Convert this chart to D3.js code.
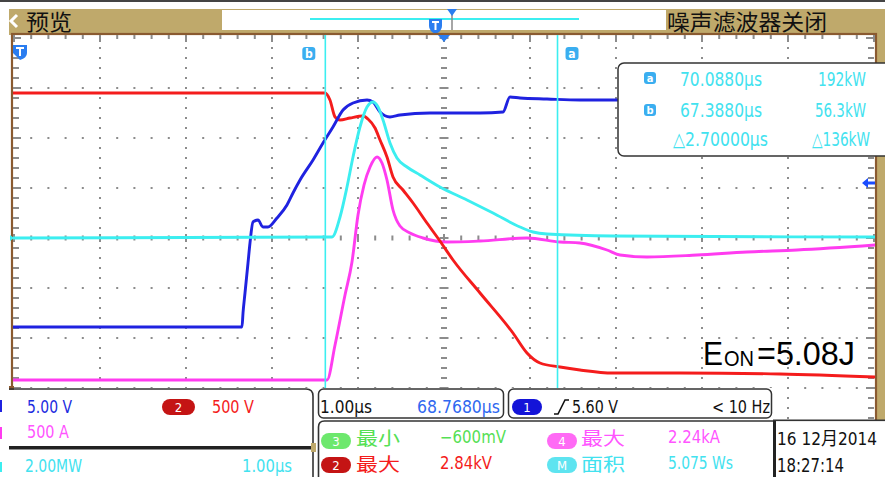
<!DOCTYPE html>
<html><head><meta charset="utf-8">
<script src="https://cdn.jsdelivr.net/npm/d3@7"></script>
<style>html,body{margin:0;padding:0;background:#fff;overflow:hidden}svg{display:block}</style>
</head><body>
<svg id="c" width="885" height="477"></svg>
<script>
const screenStartUs = 63.768;          // left edge of the record window (µs)
const usPerDiv = 1.0;
const cursorTimes = [70.088, 67.388];   // cursor a, cursor b (µs)
const cursorLabels = ["a", "b"];

// CH1 gate voltage (V), 5.00 V/div
const blueTime  = [63.745,66.419,66.431,66.454,66.489,66.512,66.547,66.605,66.663,66.721,66.826,66.942,67.012,67.094,67.245,67.361,67.477,67.594,67.710,67.873,67.942,68.024,68.140,68.256,68.605,69.187,69.454,69.535,69.652,69.966,70.349,73.791];
const blueVolts = [-8.9,-8.9,-7.5,-5.5,-2.5,-0.5,1.6,1.8,1.1,1.1,2.0,3.3,4.5,5.8,7.8,9.5,11.1,12.8,13.5,13.8,13.6,12.6,12.1,12.3,12.5,12.5,12.6,14.1,14.0,13.9,13.8,13.8];

// CH2 collector voltage (V), 500 V/div
const redTime  = [63.745,67.384,67.442,67.501,67.559,67.675,67.826,67.884,67.966,68.024,68.105,68.175,68.291,68.408,68.570,68.721,68.873,69.187,69.570,69.733,69.884,70.117,70.349,70.733,71.512,72.675,73.791];
const redVolts = [2840,2840,2770,2600,2570,2590,2610,2580,2490,2370,2200,2000,1870,1740,1540,1360,1170,840,440,240,140,100,70,40,40,30,0];

// CH4 collector current (A), 500 A/div
const magentaTime = [63.745,67.408,67.501,67.617,67.698,67.768,67.838,67.908,67.989,68.047,68.105,68.175,68.256,68.373,68.524,68.803,69.187,69.733,70.117,70.349,70.663,70.815,71.128,71.710,72.291,72.873,73.791];
const magentaAmps = [10,10,360,860,1190,1660,1960,2140,2240,2180,2010,1710,1550,1480,1430,1390,1400,1430,1390,1380,1310,1260,1240,1260,1290,1310,1360];

// Math power (MW), 2.00 MW/div
const cyanTime = [63.745,67.466,67.559,67.640,67.710,67.791,67.873,67.942,68.001,68.059,68.140,68.221,68.338,68.489,68.721,69.035,69.338,69.652,69.803,69.966,70.733,73.791];
const cyanMW   = [0,0.04,0.84,2.04,3.24,4.44,5.24,5.44,5.24,4.72,3.80,3.20,2.84,2.52,2.04,1.52,1.00,0.44,0.24,0.16,0.08,0.04];

// readouts
const cursorReadTime  = ["70.0880µs", "67.3880µs", "△2.70000µs"];
const cursorReadPower = ["192kW", "56.3kW", "△136kW"];

// ---------------- drawing ----------------
const svg = d3.select("#c");
const SF = '"DejaVu Sans Condensed","DejaVu Sans",sans-serif';
const CJK = '"Noto Sans CJK SC",sans-serif';
const BEIGE = "#bfa96b", BROWN = "#8a5a30", GRIDC = "#8c8c8c";
const C = {blue:"#1f22e0", red:"#f41c1c", mag:"#ff3cf0", cyan:"#3ceef0"};

const x = d3.scaleLinear().domain([screenStartUs, screenStartUs + 10*usPerDiv]).range([14, 874]);
const yDiv = d3.scaleLinear().domain([-4, 4]).range([438, 38]);

function txt(g, xx, yy, s, color, size, len, opts) {
  opts = opts || {};
  const t = g.append("text").attr("x", xx).attr("y", yy).text(s)
    .attr("fill", color).attr("font-size", size)
    .attr("font-family", opts.font || SF)
    .attr("text-anchor", opts.anchor || "start");
  if (len) t.attr("textLength", len).attr("lengthAdjust", "spacingAndGlyphs");
  if (opts.weight) t.attr("font-weight", opts.weight);
  return t;
}

svg.append("rect").attr("width", 885).attr("height", 477).attr("fill", "#fff");
svg.append("rect").attr("x", 0).attr("y", 0).attr("width", 885).attr("height", 2).attr("fill", "#444");

// title bar
svg.append("rect").attr("x", 9).attr("y", 9).attr("width", 876).attr("height", 26).attr("fill", BEIGE);
svg.append("rect").attr("x", 222).attr("y", 10).attr("width", 444).attr("height", 20).attr("fill", "#fff");
svg.append("path").attr("d", "M17,15 L11,21 L17,27").attr("fill", "none").attr("stroke", "#fff").attr("stroke-width", 3);
txt(svg, 26, 30, "预览", "#111", 22, 46, {font: CJK});
txt(svg, 667, 30, "噪声滤波器关闭", "#111", 22, 160, {font: CJK});
svg.append("rect").attr("x", 310).attr("y", 18).attr("width", 269).attr("height", 2).attr("fill", C.cyan);
svg.append("path").attr("d", "M429,19 h13 v7 q0,5 -6.5,8 q-6.5,-3 -6.5,-8 z").attr("fill", "#2a7df0");
svg.append("path").attr("d", "M432,22 h7 M435.5,22 v8").attr("stroke", "#fff").attr("stroke-width", 2);
svg.append("line").attr("x1", 452).attr("x2", 452).attr("y1", 10).attr("y2", 30).attr("stroke", "#888").attr("stroke-width", 1.5);
svg.append("path").attr("d", "M447,9 h10 l-5,7 z").attr("fill", "#2a7df0");

// right beige strip
svg.append("rect").attr("x", 876).attr("y", 9).attr("width", 9).attr("height", 412).attr("fill", BEIGE);

// plot frame
const plot = svg.append("g");
plot.append("rect").attr("x", 12).attr("y", 34).attr("width", 864).attr("height", 410)
  .attr("fill", "none").attr("stroke", BROWN).attr("stroke-width", 2.2);

// grid
const grid = plot.append("g");
const majorX = d3.range(11).map(i => x(screenStartUs + i*usPerDiv));
const minorX = d3.range(51).map(k => x(screenStartUs + k*usPerDiv/5));
const minorY = d3.range(41).map(m => yDiv(-4 + m*0.2));
function dot(px, py) {
  grid.append("rect").attr("x", px-1).attr("y", py-1).attr("width", 2).attr("height", 2).attr("fill", GRIDC);
}
d3.range(-3, 4).filter(j => j !== 0).forEach(j => minorX.forEach(px => dot(px, yDiv(j))));
d3.range(1, 10).filter(i => i !== 5).forEach(i => minorY.forEach(py => dot(majorX[i], py)));
minorY.forEach((py, m) => {
  const w = m % 5 === 0 ? 9 : 6;
  grid.append("rect").attr("x", majorX[5]-w/2).attr("y", py-1).attr("width", w).attr("height", 2).attr("fill", GRIDC);
  grid.append("rect").attr("x", 13).attr("y", py-1).attr("width", m % 5 === 0 ? 8 : 6).attr("height", 2).attr("fill", GRIDC);
  grid.append("rect").attr("x", 874-(m % 5 === 0 ? 8 : 6)).attr("y", py-1).attr("width", m % 5 === 0 ? 8 : 6).attr("height", 2).attr("fill", GRIDC);
});
minorX.forEach((px, k) => {
  const h = k % 5 === 0 ? 8 : 5;
  grid.append("rect").attr("x", px-1).attr("y", yDiv(0)-h/2).attr("width", 2).attr("height", h).attr("fill", GRIDC);
  grid.append("rect").attr("x", px-1).attr("y", 35).attr("width", 2).attr("height", k % 5 === 0 ? 7 : 4).attr("fill", GRIDC);
});

// traces
svg.append("clipPath").attr("id", "pc").append("rect").attr("x", 13).attr("y", 35).attr("width", 862).attr("height", 408);
const tr = plot.append("g").attr("clip-path", "url(#pc)");
const chans = [
  {t: cyanTime, v: cyanMW, perDiv: 2.0, pos: 0, color: C.cyan},
  {t: magentaTime, v: magentaAmps, perDiv: 500, pos: -2.86, color: C.mag},
  {t: redTime, v: redVolts, perDiv: 500, pos: -2.78, color: C.red},
  {t: blueTime, v: blueVolts, perDiv: 5.0, pos: 0, color: C.blue}
];
[1, 2, 3, 0].forEach(i => {
  const ch = chans[i];
  const pts = ch.t.map((t, k) => [x(t), yDiv(ch.v[k]/ch.perDiv + ch.pos)]);
  tr.append("path").attr("d", d3.line().curve(d3.curveMonotoneX)(pts))
    .attr("fill", "none").attr("stroke", ch.color).attr("stroke-width", 2.9)
    .attr("stroke-linejoin", "round");
});

// cursors
cursorTimes.forEach((t, i) => {
  const cx = x(t);
  tr.append("line").attr("x1", cx).attr("x2", cx).attr("y1", 35).attr("y2", 390)
    .attr("stroke", C.cyan).attr("stroke-width", 1.6);
  const ix = i === 0 ? cx + 8 : cx - 23;
  plot.append("rect").attr("x", ix).attr("y", 47).attr("width", 13).attr("height", 13).attr("rx", 3).attr("fill", "#3aaef0");
  txt(plot, ix + 6.5, 58, cursorLabels[i], "#fff", 12, null, {anchor: "middle", weight: "bold"});
});

// markers
plot.append("path").attr("d", `M${x(screenStartUs+5*usPerDiv)-6},35 h12 l-6,7 z`).attr("fill", "#2a7df0");
plot.append("path").attr("d", "M13,45 h14 v8 q0,5 -7,7 l-7,-7 z").attr("fill", "#2a7df0");
plot.append("path").attr("d", "M16,48 h8 M20,48 v8").attr("stroke", "#fff").attr("stroke-width", 2);
plot.append("path").attr("d", "M862,183 l6,-5 v3.5 h7 v3 h-7 v3.5 z").attr("fill", "#1a4cff");
plot.append("path").attr("d", "M10,235 l4,3 l-4,3 z").attr("fill", C.cyan);

// E_ON annotation
const LS = '"Liberation Sans",Arial,sans-serif';
txt(svg, 703, 365, "E", "#000", 34, 20, {font: LS});
txt(svg, 724, 366, "ON", "#000", 22, 30, {font: LS});
txt(svg, 757, 365, "=5.08J", "#000", 34, 98, {font: LS});

// cursor readout box
const rb = svg.append("g");
rb.append("rect").attr("x", 618).attr("y", 63).attr("width", 280).attr("height", 93).attr("rx", 6)
  .attr("fill", "#fff").attr("stroke", "#333").attr("stroke-width", 1.5);
[78, 110].forEach((cy, i) => {
  rb.append("rect").attr("x", 644).attr("y", cy-6).attr("width", 12).attr("height", 12).attr("rx", 3).attr("fill", "#3aaef0");
  txt(rb, 650, cy+4, cursorLabels[i], "#fff", 11, null, {anchor: "middle", weight: "bold"});
});
const RC = "#42e2ef";
txt(rb, 680, 86, cursorReadTime[0], RC, 20, 82);
txt(rb, 680, 117, cursorReadTime[1], RC, 20, 82);
txt(rb, 673, 146, cursorReadTime[2], RC, 19, 95);
txt(rb, 866, 86, cursorReadPower[0], RC, 20, 48, {anchor: "end"});
txt(rb, 866, 117, cursorReadPower[1], RC, 20, 51, {anchor: "end"});
txt(rb, 870, 146, cursorReadPower[2], RC, 19, 58, {anchor: "end"});

// bottom panels
const bp = svg.append("g");
bp.append("rect").attr("x", 0).attr("y", 388).attr("width", 775).attr("height", 89).attr("fill", "#fff");
bp.append("rect").attr("x", 775).attr("y", 420).attr("width", 110).attr("height", 57).attr("fill", "#fff");
bp.append("rect").attr("x", 9).attr("y", 386).attr("width", 5).attr("height", 4).attr("fill", BROWN);
bp.append("path").attr("d", "M9,389 H306 Q313,389 313,396 V477").attr("fill", "none").attr("stroke", "#333").attr("stroke-width", 1.6);
bp.append("rect").attr("x", 9).attr("y", 446).attr("width", 305).attr("height", 3.5).attr("fill", "#222");
bp.append("rect").attr("x", 311).attr("y", 443).attr("width", 5).attr("height", 9).attr("fill", BEIGE);
bp.append("rect").attr("x", 318.5).attr("y", 389).attr("width", 185).attr("height", 29).attr("rx", 5)
  .attr("fill", "none").attr("stroke", "#333").attr("stroke-width", 1.5);
bp.append("rect").attr("x", 508.5).attr("y", 389).attr("width", 263).attr("height", 29).attr("rx", 5)
  .attr("fill", "none").attr("stroke", "#333").attr("stroke-width", 1.5);
bp.append("path").attr("d", "M318.5,477 V427 Q318.5,421 324.5,421 H775").attr("fill", "none").attr("stroke", "#333").attr("stroke-width", 1.6);
bp.append("rect").attr("x", 773).attr("y", 420).attr("width", 3).attr("height", 57).attr("fill", "#222");
bp.append("rect").attr("x", 773).attr("y", 419.5).attr("width", 112).attr("height", 1.6).attr("fill", "#333");
[[C.blue, 400, 412], [C.mag, 427, 439], [C.cyan, 462, 472]].forEach(s =>
  bp.append("rect").attr("x", 0).attr("y", s[1]).attr("width", 2).attr("height", s[2]-s[1]).attr("fill", s[0]));

function badge(xx, yy, w, h, fill, label) {
  bp.append("rect").attr("x", xx).attr("y", yy).attr("width", w).attr("height", h).attr("rx", h/2).attr("fill", fill);
  txt(bp, xx + w/2, yy + h - 3, label, "#fff", h - 3, null, {anchor: "middle"});
}
txt(bp, 27, 413, "5.00 V", "#1c2ce0", 17, 45);
badge(162, 399, 33, 16, "#c41414", "2");
txt(bp, 212, 413, "500 V", C.red, 17, 42);
txt(bp, 27, 438, "500 A", "#ff55ff", 17, 42);
txt(bp, 25, 472, "2.00MW", RC, 17, 57);
txt(bp, 242, 472, "1.00µs", RC, 17, 50);
txt(bp, 320, 413, "1.00µs", "#111", 17, 52);
txt(bp, 417, 413, "68.7680µs", "#2f68f0", 17, 83);
badge(512, 399, 30, 16, "#1414d8", "1");
bp.append("path").attr("d", "M554,414 h4 l7,-14 h4").attr("fill", "none").attr("stroke", "#111").attr("stroke-width", 1.6);
txt(bp, 572, 413, "5.60 V", "#111", 17, 46);
txt(bp, 712, 413, "< 10 Hz", "#111", 17, 58);
const GR = "#55e055";
badge(321, 433, 30, 16, "#6de86d", "3");
txt(bp, 356, 445, "最小", GR, 18, 44, {font: CJK});
txt(bp, 440, 443, "−600mV", GR, 17, 66);
badge(547, 433, 30, 16, "#ff6af5", "4");
txt(bp, 581, 445, "最大", "#ff55ff", 18, 44, {font: CJK});
txt(bp, 668, 443, "2.24kA", "#ff55ff", 17, 52);
badge(321, 457, 30, 16, "#c41414", "2");
txt(bp, 356, 471, "最大", C.red, 18, 44, {font: CJK});
txt(bp, 440, 469, "2.84kV", C.red, 17, 52);
badge(547, 457, 30, 16, "#5ee4f0", "M");
txt(bp, 581, 471, "面积", RC, 18, 44, {font: CJK});
txt(bp, 668, 469, "5.075 Ws", RC, 17, 65);
txt(bp, 777, 445, "16 12月2014", "#111", 18, 100, {font: '"DejaVu Sans Condensed","Noto Sans CJK SC",sans-serif'});
txt(bp, 777, 472, "18:27:14", "#111", 19, 67);
</script>
</body></html>
